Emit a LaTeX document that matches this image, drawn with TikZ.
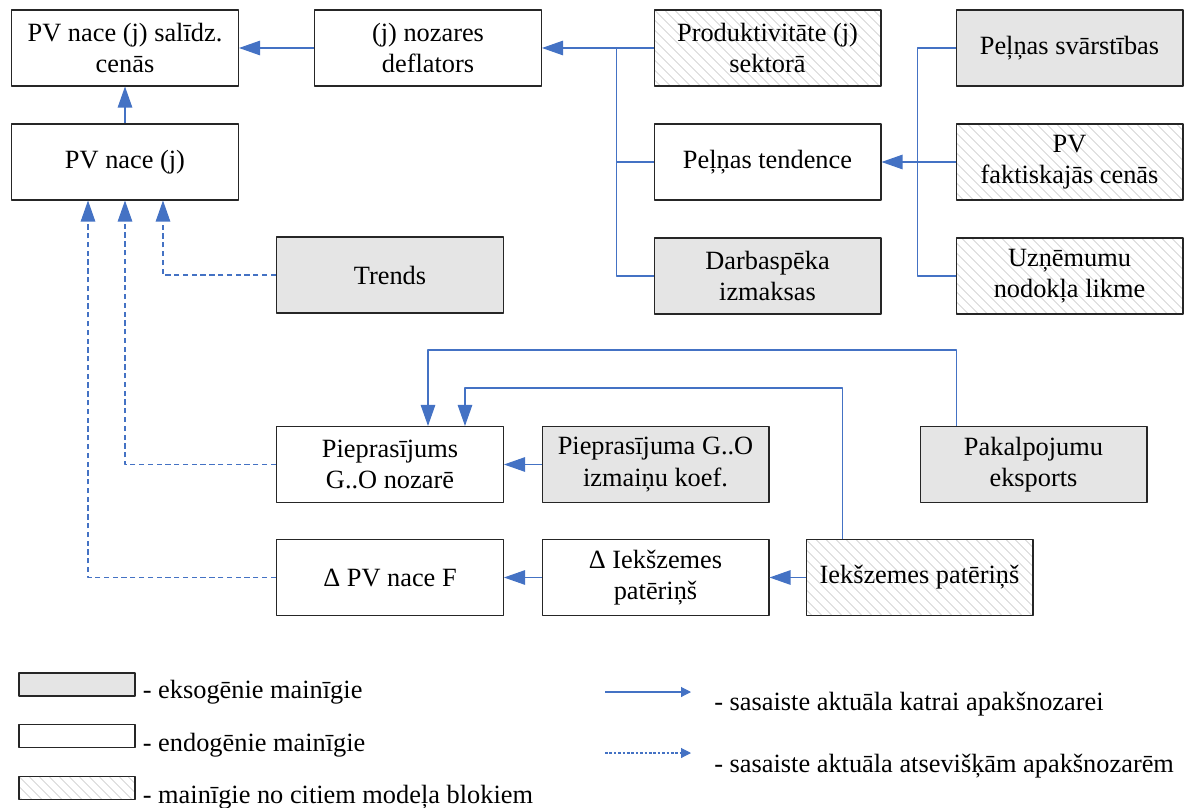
\documentclass[tikz,border=0pt]{standalone}
\usepackage{fontspec}
\setmainfont{Liberation Serif}
\usetikzlibrary{arrows.meta,patterns.meta}
\definecolor{lnk}{RGB}{68,114,196}

\begin{document}
\begin{tikzpicture}[x=0.02cm, y=-0.02cm, line join=round, font=\fontsize{15}{18}\selectfont,
	box/.style={draw=black!85, line width=0.6pt, minimum width=4.54cm, minimum height=1.52cm, align=center, inner sep=1pt},
	exo/.style={box, fill=black!10},
	ext/.style={box, pattern={Lines[angle=-45,distance=4pt,line width=0.5pt]}, pattern color=black!18},
	conn/.style={draw=lnk, line width=0.6pt},
	link/.style={conn, -{Triangle[length=0.42cm,width=0.29cm]}},
	dlink/.style={link, dash pattern=on 3pt off 2pt},
	lgarrow/.style={conn, -{Triangle[length=0.2cm,width=0.2cm]}},
	lgbox/.style={minimum width=2.32cm, minimum height=0.46cm},
	lgtext/.style={anchor=base west, inner sep=0pt}]
	\useasboundingbox (0,0) rectangle (1185,807);
	% blocks
	\node[box] (cen) at (125,48) {PV nace (j) salīdz.\\cenās};
	\node[box] (defl) at (428,48) {(j) nozares\\deflators};
	\node[box] (pv) at (125,162) {PV nace (j)};
	\node[ext] (prod) at (767.5,48) {Produktivitāte (j)\\sektorā};
	\node[box] (tend) at (767.5,162) {Peļņas tendence};
	\node[exo] (darb) at (767.5,276) {Darbaspēka\\izmaksas};
	\node[exo] (svar) at (1069.5,48) {Peļņas svārstības};
	\node[ext] (fakt) at (1069.5,162) {PV\\faktiskajās cenās};
	\node[ext] (nod) at (1069.5,276) {Uzņēmumu\\nodokļa likme};
	\node[exo] (trend) at (390,275) {Trends};
	\node[box] (piepr) at (390,464.5) {Pieprasījums\\G..O nozarē};
	\node[exo] (koef) at (655.5,464.5) {Pieprasījuma G..O\\izmaiņu koef.};
	\node[exo] (eksp) at (1033.5,464.5) {Pakalpojumu\\eksports};
	\node[box] (dpv) at (390,577.5) {Δ PV nace F};
	\node[box] (dpat) at (655.5,577.5) {Δ Iekšzemes\\patēriņš};
	\node[ext] (pat) at (919.5,577.5) {Iekšzemes patēriņš};
	% links
	\draw[link] (defl) -- (cen);
	\draw[link] (pv) -- (cen);
	\draw[link] (prod) -- (defl);
	\draw[conn] (prod.west) ++(-37,0) |- (darb.west);
	\draw[conn] (tend.west) -- ++(-37,0);
	\draw[conn] (svar.west) -- ++(-38,0) |- (nod.west);
	\draw[link] (fakt) -- (tend);
	\draw[dlink] (trend.west) -| ([xshift=0.76cm]pv.south);
	\draw[dlink] (piepr.west) -| (pv.south);
	\draw[dlink] (dpv.west) -| ([xshift=-0.74cm]pv.south);
	\draw[link] (koef) -- (piepr);
	\draw[link] (dpat) -- (dpv);
	\draw[link] (pat) -- (dpat);
	\draw[link] ([xshift=0.74cm]eksp.north west) -- ++(0,-76) -| ([xshift=0.76cm]piepr.north);
	\draw[link] ([xshift=0.74cm]pat.north west) -- ++(0,-151) -| ([xshift=1.5cm]piepr.north);
	% legend
	\node[exo, lgbox] (lg1) at (77,684.5) {};
	\node[box, lgbox] (lg2) at (77,736) {};
	\node[ext, lgbox] (lg3) at (77,788) {};
	\node[lgtext] (lt1) at ([xshift=0.14cm,yshift=-0.04cm]lg1.south east) {- eksogēnie mainīgie};
	\node[lgtext] (lt2) at ([xshift=0.14cm,yshift=-0.06cm]lg2.south east) {- endogēnie mainīgie};
	\node[lgtext] (lt3) at ([xshift=0.14cm,yshift=-0.06cm]lg3.south east) {- mainīgie no citiem modeļa blokiem};
	\coordinate (la1) at (605,692);
	\coordinate (la2) at (605,753);
	\draw[lgarrow] (la1) -- ++(86,0);
	\draw[lgarrow, dash pattern=on 1.5pt off 1pt] (la2) -- ++(86,0);
	\node[lgtext] (lx1) at (714,710) {- sasaiste aktuāla katrai apakšnozarei};
	\node[lgtext] (lx2) at (714,772) {- sasaiste aktuāla atsevišķām apakšnozarēm};
\end{tikzpicture}
\end{document}
